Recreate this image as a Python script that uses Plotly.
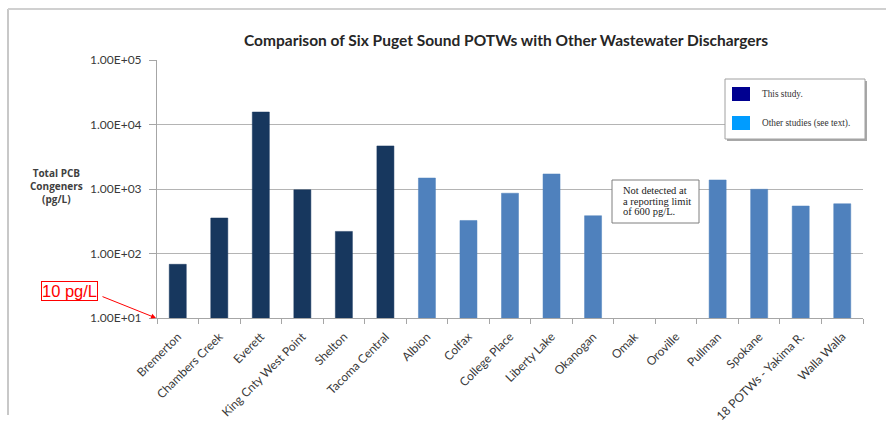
import plotly.graph_objects as go

# Total PCB congeners per discharger (pg/L); None = not detected
sites = ["Bremerton", "Chambers Creek", "Everett", "King Cnty West Point", "Shelton",
         "Tacoma Central", "Albion", "Colfax", "College Place", "Liberty Lake",
         "Okanogan", "Omak", "Oroville", "Pullman", "Spokane",
         "18 POTWs - Yakima R.", "Walla Walla"]
pcb_values = [68, 355, 15600, 970, 220, 4650, 1480, 325, 860, 1710,
              385, None, None, 1380, 990, 545, 590]
source = ["this", "this", "this", "this", "this", "this",
          "other", "other", "other", "other", "other", "other", "other",
          "other", "other", "other", "other"]
tick_values = [10, 100, 1000, 10000, 100000]
tick_labels = ["1.00E+01", "1.00E+02", "1.00E+03", "1.00E+04", "1.00E+05"]
note_lines = ["Not detected at", "a reporting limit", "of 600 pg/L."]

bar_colors = {"this": "#17375E", "other": "#4F81BD"}

# plot area in pixels
W, H = 886, 425
L, R, T, B = 157, 863, 60, 318


def px(x):
    return (x - L) / (R - L)


def py(y):
    return (B - y) / (B - T)


fig = go.Figure()
fig.add_trace(go.Bar(
    x=sites,
    y=pcb_values,
    width=0.41,
    marker=dict(color=[bar_colors[s] for s in source],
                line=dict(color=[bar_colors[s] for s in source], width=0.5)),
    showlegend=False,
))

shapes = []
annotations = []

# outer frame (left and top edges)
shapes.append(dict(type="line", xref="paper", yref="paper",
                   x0=px(8), y0=py(9), x1=px(8), y1=py(415),
                   line=dict(color="#C8C8C8", width=2)))
shapes.append(dict(type="line", xref="paper", yref="paper",
                   x0=px(8), y0=py(9), x1=px(886), y1=py(9),
                   line=dict(color="#D0D0D0", width=2)))

# legend box with shadow
shapes.append(dict(type="rect", xref="paper", yref="paper",
                   x0=px(727), y0=py(81), x1=px(867), y1=py(141),
                   line=dict(width=0), fillcolor="#A8A8A8", layer="above"))
shapes.append(dict(type="rect", xref="paper", yref="paper",
                   x0=px(725), y0=py(79), x1=px(865), y1=py(139),
                   line=dict(color="#A0A0A0", width=1), fillcolor="white", layer="above"))
shapes.append(dict(type="rect", xref="paper", yref="paper",
                   x0=px(732), y0=py(87), x1=px(750), y1=py(101),
                   line=dict(width=0), fillcolor="#000090", layer="above"))
shapes.append(dict(type="rect", xref="paper", yref="paper",
                   x0=px(732), y0=py(116), x1=px(750), y1=py(130),
                   line=dict(width=0), fillcolor="#009CFF", layer="above"))
annotations.append(dict(xref="paper", yref="paper", x=px(760), y=py(94),
                        text="This study.", showarrow=False, xanchor="left",
                        yanchor="middle",
                        font=dict(family="Liberation Serif", size=9.3, color="#333333")))
annotations.append(dict(xref="paper", yref="paper", x=px(760), y=py(123),
                        text="Other studies (see text).", showarrow=False,
                        xanchor="left", yanchor="middle",
                        font=dict(family="Liberation Serif", size=9.3, color="#333333")))

# note box for non-detects
shapes.append(dict(type="rect", xref="paper", yref="paper",
                   x0=px(612), y0=py(180), x1=px(699), y1=py(223),
                   line=dict(color="#7F7F7F", width=1), fillcolor="white", layer="above"))
for i, line in enumerate(note_lines):
    annotations.append(dict(xref="paper", yref="paper", x=px(621), y=py(190.5 + 10.5 * i),
                            text=line, showarrow=False, xanchor="left",
                            yanchor="middle", align="left",
                            font=dict(family="Liberation Serif", size=10.5,
                                      color="#222222")))

# red callout for the axis floor
annotations.append(dict(xref="paper", yref="paper", x=px(69), y=py(291),
                        text="10 pg/L", showarrow=False, xanchor="center",
                        yanchor="middle",
                        font=dict(family="Liberation Sans", size=16.5, color="#FF0000"),
                        bordercolor="#FF0000", borderwidth=1, borderpad=0,
                        bgcolor="white"))
annotations.append(dict(xref="paper", yref="paper", x=px(156), y=py(318),
                        ax=-55, ay=-22, axref="pixel", ayref="pixel",
                        text="", showarrow=True, arrowhead=2, arrowsize=1,
                        arrowwidth=1, arrowcolor="#FF0000"))

# y-axis title
annotations.append(dict(xref="paper", yref="paper", x=px(56), y=py(186),
                        text="<b>Total PCB<br>Congeners<br>(pg/L)</b>", showarrow=False,
                        xanchor="center", yanchor="middle",
                        font=dict(family="Open Sans", size=10, color="#404040")))

# chart title
annotations.append(dict(xref="paper", yref="paper", x=px(506), y=py(40),
                        text="<b>Comparison of Six Puget Sound POTWs with Other Wastewater Dischargers</b>",
                        showarrow=False, xanchor="center", yanchor="middle",
                        font=dict(family="Lato", size=15.5, color="#262626")))

fig.update_layout(
    width=W, height=H,
    margin=dict(l=L, r=W - R, t=T, b=H - B, autoexpand=False),
    paper_bgcolor="white", plot_bgcolor="white",
    shapes=shapes,
    annotations=annotations,
    xaxis=dict(
        type="category", automargin=False,
        showline=True, linecolor="#A6A6A6", linewidth=1,
        ticks="outside", tickson="boundaries", ticklen=5, tickcolor="#A6A6A6",
        tickangle=-45, ticklabelstandoff=6,
        tickfont=dict(family="Lato", size=12, color="#3A3A3A"),
        showgrid=False,
        range=[-0.5, len(sites) - 0.5],
    ),
    yaxis=dict(
        type="log", range=[1, 5], automargin=False,
        tickvals=tick_values, ticktext=tick_labels,
        showline=True, linecolor="#A6A6A6", linewidth=1,
        ticks="outside", ticklen=7, tickcolor="#A6A6A6", ticklabelstandoff=5,
        tickfont=dict(family="Lato", size=12, color="#3A3A3A"),
        showgrid=True, gridcolor="#B4B4B4", gridwidth=1,
        zeroline=False,
    ),
    font=dict(family="Lato"),
)

fig.write_html("out.html")
